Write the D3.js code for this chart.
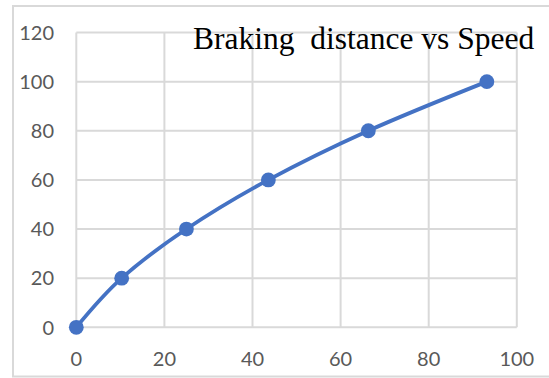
<!DOCTYPE html>
<html>
<head>
<meta charset="utf-8">
<script src="https://cdn.jsdelivr.net/npm/d3@7"></script>
<style>
  html, body { margin: 0; padding: 0; background: #fff; }
  svg { display: block; }
</style>
</head>
<body>
<svg id="chart" width="549" height="378"></svg>
<script>
const titleText = "Braking  distance vs Speed";
const xValues = [0, 10.3, 25, 43.6, 66.3, 93.2];
const yValues = [0, 20, 40, 60, 80, 100];
const xTicks = [0, 20, 40, 60, 80, 100];
const yTicks = [0, 20, 40, 60, 80, 100, 120];

const W = 549, H = 378;
const svg = d3.select("#chart");

// outer chart frame
svg.append("rect")
  .attr("x", 13).attr("y", 6)
  .attr("width", W + 10).attr("height", 370.5)
  .attr("fill", "#fff").attr("stroke", "#d9d9d9").attr("stroke-width", 2);

const x = d3.scaleLinear().domain([0, 100]).range([76.3, 516.8]);
const y = d3.scaleLinear().domain([0, 120]).range([327.3, 32.5]);

const grid = svg.append("g");
grid.selectAll("line.h").data(yTicks).join("line")
  .attr("x1", x(0)).attr("x2", x(100))
  .attr("y1", d => y(d)).attr("y2", d => y(d))
  .attr("stroke", "#d9d9d9").attr("stroke-width", 2);
grid.selectAll("line.v").data(xTicks).join("line")
  .attr("y1", y(0)).attr("y2", y(120))
  .attr("x1", d => x(d)).attr("x2", d => x(d))
  .attr("stroke", "#d9d9d9").attr("stroke-width", 2);

const labelFont = "Lato, 'Open Sans', sans-serif";
svg.append("g").selectAll("text").data(yTicks).join("text")
  .attr("x", 54).attr("y", d => y(d))
  .attr("dy", "0.36em")
  .attr("text-anchor", "end")
  .attr("font-family", labelFont).attr("font-size", 20)
  .attr("fill", "#595959")
  .text(d => d);

svg.append("g").selectAll("text").data(xTicks).join("text")
  .attr("x", d => x(d)).attr("y", 359)
  .attr("dy", "0.36em")
  .attr("text-anchor", "middle")
  .attr("font-family", labelFont).attr("font-size", 20)
  .attr("fill", "#595959")
  .text(d => d);

const pts = xValues.map((v, i) => [v, yValues[i]]);
const line = d3.line().x(d => x(d[0])).y(d => y(d[1])).curve(d3.curveCardinal.tension(0));
svg.append("path").datum(pts)
  .attr("d", line)
  .attr("fill", "none").attr("stroke", "#4472c4").attr("stroke-width", 3.8)
  .attr("stroke-linecap", "round");

svg.append("g").selectAll("circle").data(pts).join("circle")
  .attr("cx", d => x(d[0])).attr("cy", d => y(d[1]))
  .attr("r", 7.4).attr("fill", "#4472c4");

svg.append("text")
  .attr("x", 193).attr("y", 49.3)
  .attr("font-family", "'Liberation Serif', 'Times New Roman', serif")
  .attr("font-size", 31.5)
  .attr("fill", "#000")
  .style("white-space", "pre")
  .text(titleText);
</script>
</body>
</html>
